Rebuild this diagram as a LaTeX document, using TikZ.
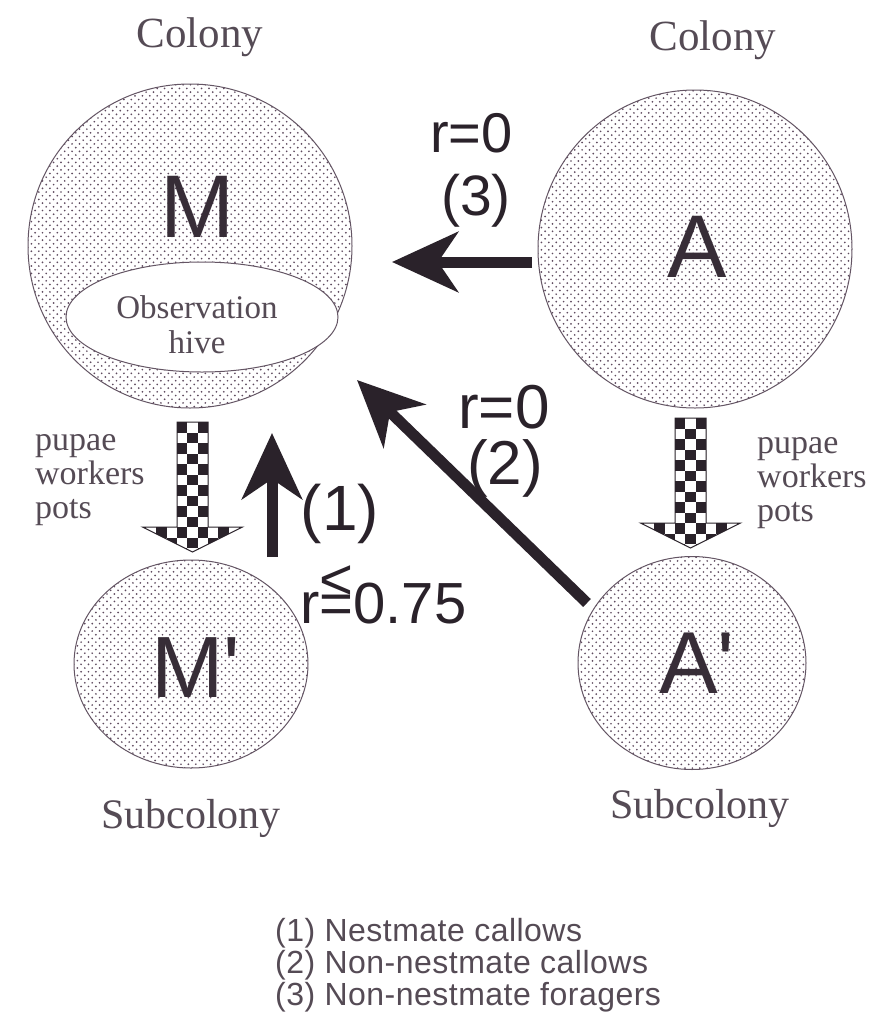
\documentclass[tikz,border=0pt]{standalone}
\usepackage{fontspec}
\setmainfont{Liberation Serif}
\newfontfamily\hv{Liberation Sans}
\usetikzlibrary{arrows.meta,shapes.geometric}
\definecolor{ink}{RGB}{42,34,42}
\definecolor{letterc}{RGB}{55,45,55}
\definecolor{grayink}{RGB}{85,75,85}
\definecolor{dotc}{RGB}{95,75,95}
\definecolor{rim}{RGB}{100,85,100}
% stippled interior of an ellipse: centre x, centre y, x radius, y radius
\newcommand\stippleellipse[4]{%
  \begin{scope}
    \clip (#1,#2) ellipse [x radius=#3, y radius=#4];
    \pgfmathtruncatemacro\nrows{2*#4/3.7+2}
    \foreach \r in {0,...,\nrows} {
      \pgfmathsetmacro\rowoff{mod(\r,2)*3.7}
      \draw[dotc, line width=1.9pt, line cap=round, dash pattern=on 0pt off 7.4pt]
        ({#1-#3-4+\rowoff},{#2-#4-3+\r*3.7}) -- ++(2*#3+10,0);
    }
  \end{scope}%
}
\tikzset{
  colony/.style={ellipse, draw=rim, line width=1pt, inner sep=0pt},
  hivebox/.style={ellipse, draw=rim, line width=1pt, fill=white, inner sep=0pt},
  serif/.style={font=\fontsize{#1}{#1}\selectfont, text=grayink, inner sep=0pt},
  sans/.style={font=\hv\fontsize{#1}{#1}\selectfont, text=ink, inner sep=0pt},
  bigletter/.style={font=\hv\fontsize{#1}{#1}\selectfont, text=letterc, inner sep=0pt, anchor=base west},
  bigarrow/.style={draw=ink, line width=11pt, -{Stealth[length=66pt,width=60pt,inset=20pt]}},
  checkarrow/.pic={
    \begin{scope}
      \clip (-15.5,0) -- (15.5,0) -- (15.5,105) -- (50,105) -- (0,130) -- (-50,105) -- (-15.5,105) -- cycle;
      \foreach \i in {0,...,12} {
        \foreach \j in {-4,...,6} {
          \pgfmathtruncatemacro\cpar{mod(\i+\j+20,2)}
          \ifnum\cpar=0 \fill[ink] (-15.5+\j*10.33,\i*10.5) rectangle ++(10.33,10.5); \fi
        }
      }
    \end{scope}
    \draw[ink, line width=1pt, line join=miter] (-15.5,0) -- (15.5,0) -- (15.5,105) -- (50,105) -- (0,130) -- (-50,105) -- (-15.5,105) -- cycle;
  }
}
\begin{document}
\begin{tikzpicture}[x=1pt,y=-1pt]
\useasboundingbox[fill=white] (0,0) rectangle (878,1026);

% stippling
\stippleellipse{190}{246}{162}{162}
\stippleellipse{695}{249}{157}{159}
\stippleellipse{191}{664}{117}{104}
\stippleellipse{692}{663}{114}{106.5}

% colonies
\node[colony, minimum width=324, minimum height=324] (M) at (190,246) {};
\node[colony, minimum width=314, minimum height=318] (A) at (695,249) {};
\node[colony, minimum width=234, minimum height=208] (Ms) at (191,664) {};
\node[colony, minimum width=228, minimum height=213] (As) at (692,663) {};
\node[hivebox, minimum width=272, minimum height=110] (hive) at (202,317) {};

% letters
\node[bigletter=89] (Ml) at (160.5,237) {M};
\node[bigletter=89] (Al) at (667,277) {A};
\node[bigletter=87] (Msl) at (151,697) {M\textquotesingle};
\node[bigletter=88] (Asl) at (659,693) {A\textquotesingle};

% hive text
\node[serif=33, anchor=base] (h1) at (197,318) {Observation};
\node[serif=33, anchor=base] (h2) at (197,353) {hive};

% colony labels
\node[serif=43, anchor=base] (c1) at (200,47) {Colony};
\node[serif=43, anchor=base] (c2) at (713,50) {Colony};
\node[serif=42, anchor=base] (s1) at (191,828) {Subcolony};
\node[serif=42, anchor=base] (s2) at (700,818) {Subcolony};

% transfer labels
\node[serif=34, anchor=base west] (lp1) at (35,450) {pupae};
\node[serif=34, anchor=base west] (lp2) at (35,484) {workers};
\node[serif=34, anchor=base west] (lp3) at (35,518) {pots};
\node[serif=34, anchor=base west] (rp1) at (757,453) {pupae};
\node[serif=34, anchor=base west] (rp2) at (757,487) {workers};
\node[serif=34, anchor=base west] (rp3) at (757,521) {pots};

% checkered transfer arrows
\pic at (192.5,422) {checkarrow};
\pic at (690.5,418) {checkarrow};

% relatedness arrows
\coordinate (a3s) at (532,262);
\coordinate (a3e) at (392,262);
\coordinate (a1s) at (272,557);
\coordinate (a1e) at (272,433);
\coordinate (a2s) at (587,603);
\coordinate (a2e) at (357,380);
\draw[bigarrow] (a3s) -- (a3e);
\draw[bigarrow] (a1s) -- (a1e);
\draw[bigarrow] (a2s) -- (a2e);

% arrow labels
\node[sans=56, anchor=base] (r3) at (471.5,152) {r=0};
\node[sans=57, anchor=base] (n3) at (476,215) {(3)};
\node[sans=62, anchor=base] (r2) at (504,428) {r=0};
\node[sans=62, anchor=base] (n2) at (505,484) {(2)};
\node[sans=64, anchor=base] (n1) at (340,530) {(1)};
\node[sans=58, anchor=base west] (r1) at (300,623) {r\makebox[0pt][l]{\raisebox{0.40em}{<}}=0.75};

% legend
\node[sans=32, anchor=base west, text=grayink] (g1) at (275,941) {\addfontfeatures{LetterSpace=1.5}(1) Nestmate callows};
\node[sans=32, anchor=base west, text=grayink] (g2) at (275,973) {\addfontfeatures{LetterSpace=1.5}(2) Non-nestmate callows};
\node[sans=32, anchor=base west, text=grayink] (g3) at (275,1005) {\addfontfeatures{LetterSpace=1.5}(3) Non-nestmate foragers};
\end{tikzpicture}
\end{document}
